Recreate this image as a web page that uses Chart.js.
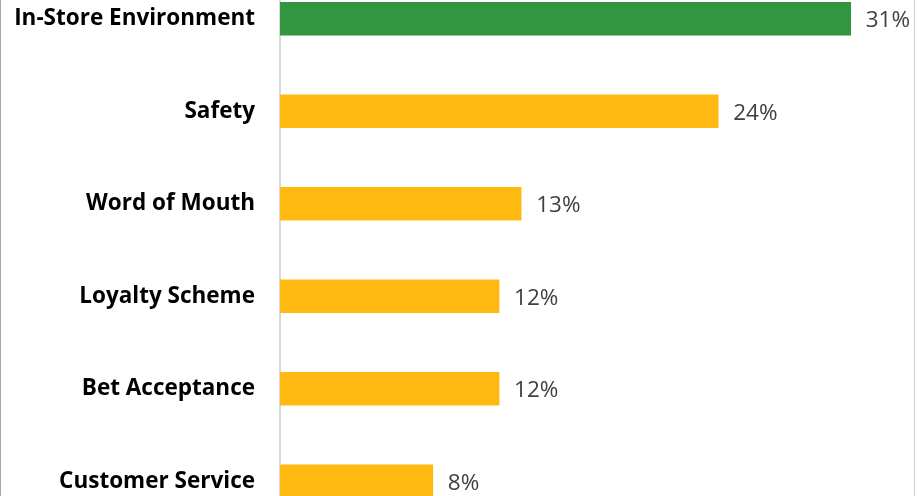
<!DOCTYPE html>
<html>
<head>
<meta charset="utf-8">
<script src="https://cdn.jsdelivr.net/npm/chart.js@4"></script>
<style>
    html, body { margin: 0; padding: 0; width: 917px; height: 496px; overflow: hidden; background: #fff; }
    #wrap { position: absolute; left: 0; top: -66px; width: 917px; height: 632px; }
    .edgeL { position: absolute; left: 0; top: 0; width: 1px; height: 496px; background: #a6a6a6; }
    .edgeR { position: absolute; left: 914px; top: 0; width: 1px; height: 496px; background: #d0d0d0; }
</style>
</head>
<body>
<div id="wrap"><canvas id="myChart"></canvas></div>
<div class="edgeL"></div>
<div class="edgeR"></div>
<script>
const categories = ['In-Store Environment', 'Safety', 'Word of Mouth', 'Loyalty Scheme', 'Bet Acceptance', 'Customer Service'];
const shares = [31.0, 23.8, 13.1, 11.9, 11.9, 8.3];
const barColors = ['#31963f', '#ffb911', '#ffb911', '#ffb911', '#ffb911', '#ffb911'];

const valueLabels = {
    id: 'valueLabels',
    afterDatasetsDraw(chart) {
        const ctx = chart.ctx;
        const meta = chart.getDatasetMeta(0);
        ctx.save();
        ctx.font = '22.5px "Open Sans"';
        ctx.fillStyle = '#404040';
        ctx.textAlign = 'left';
        ctx.textBaseline = 'middle';
        meta.data.forEach((bar, i) => {
            ctx.fillText(Math.round(shares[i]) + '%', bar.x + 15, bar.y + 2);
        });
        ctx.restore();
    }
};

const ctx = document.getElementById('myChart').getContext('2d');
const myChart = new Chart(ctx, {
    type: 'bar',
    data: {
        labels: categories,
        datasets: [{
            data: shares,
            backgroundColor: barColors,
            barThickness: 33,
            borderWidth: 0
        }]
    },
    options: {
        indexAxis: 'y',
        responsive: true,
        maintainAspectRatio: false,
        animation: false,
        layout: { padding: 0 },
        plugins: {
            legend: { display: false },
            tooltip: { enabled: false }
        },
        scales: {
            x: {
                display: false,
                min: 0,
                max: 34.6
            },
            y: {
                afterFit: (scale) => { scale.width = 280; },
                grid: { display: false, drawTicks: false },
                border: { display: true, color: '#d9d9d9', width: 2 },
                ticks: {
                    color: '#000',
                    padding: 25,
                    font: { family: 'Open Sans', size: 22.5, weight: 'bold' }
                }
            }
        }
    },
    plugins: [valueLabels]
});
</script>
</body>
</html>
